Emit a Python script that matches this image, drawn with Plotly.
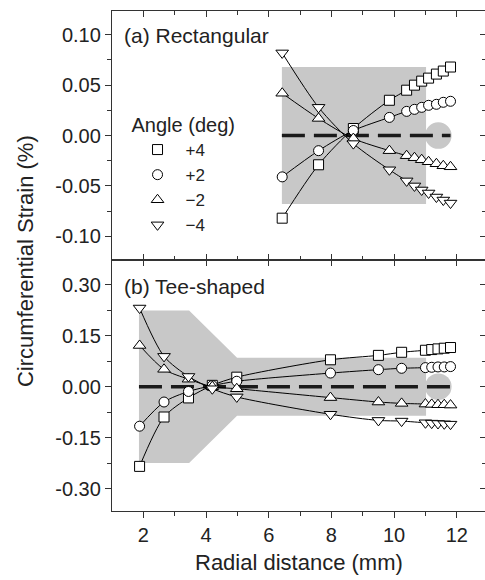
import plotly.graph_objects as go

# ---------------- data ----------------
# (a) Rectangular
xa = [6.43, 7.59, 8.70, 9.85, 10.40, 10.65, 10.88, 11.10, 11.35, 11.57, 11.80]
ya_p4 = [-0.082, -0.029, 0.007, 0.035, 0.045, 0.050, 0.054, 0.057, 0.061, 0.064, 0.068]
ya_p2 = [-0.041, -0.015, 0.005, 0.018, 0.024, 0.026, 0.028, 0.030, 0.031, 0.033, 0.034]
ya_m2 = [0.042, 0.017, -0.003, -0.015, -0.020, -0.022, -0.024, -0.026, -0.028, -0.030, -0.031]
ya_m4 = [0.082, 0.028, -0.008, -0.034, -0.045, -0.050, -0.054, -0.057, -0.061, -0.064, -0.067]

# (b) Tee-shaped
xb = [1.88, 2.66, 3.44, 4.20, 4.98, 7.97, 9.50, 10.24, 11.00, 11.20, 11.40, 11.60, 11.80]
yb_p4 = [-0.234, -0.089, -0.033, 0.004, 0.028, 0.079, 0.092, 0.101, 0.107, 0.109, 0.111, 0.113, 0.115]
yb_p2 = [-0.116, -0.045, -0.014, 0.003, 0.016, 0.040, 0.050, 0.054, 0.056, 0.057, 0.058, 0.058, 0.059]
yb_m2 = [0.121, 0.051, 0.022, 0.000, -0.006, -0.032, -0.045, -0.049, -0.051, -0.052, -0.053, -0.053, -0.054]
yb_m4 = [0.231, 0.089, 0.030, -0.006, -0.030, -0.081, -0.099, -0.101, -0.106, -0.107, -0.108, -0.109, -0.110]

series_names = ["+4", "+2", "\u22122", "\u22124"]
series_symbols = ["square", "circle", "triangle-up", "triangle-down"]
series_sizes = [10, 10, 11, 11]

ya_ticks = [-0.10, -0.05, 0.00, 0.05, 0.10]
ya_ticktext = ["-0.10", "-0.05", "0.00", "0.05", "0.10"]
ya_minor = [-0.075, -0.025, 0.025, 0.075]
yb_ticks = [-0.30, -0.15, 0.00, 0.15, 0.30]
yb_ticktext = ["-0.30", "-0.15", "0.00", "0.15", "0.30"]
yb_minor = [-0.225, -0.075, 0.075, 0.225]
x_ticks = [2, 4, 6, 8, 10, 12]
x_minor = [3, 5, 7, 9, 11]

# geometry of the grey specimen outlines (data units)
rect_a = dict(x0=6.42, x1=11.02, y0=-0.068, y1=0.068)
circ_x = (10.985, 11.835)
circ_a_r = 0.0132
circ_b_r = 0.039
tee_x = [1.86, 3.46, 4.99, 11.02]
tee_y = [0.224, 0.224, 0.085, 0.085]

FONT = "Liberation Sans, Arial, Helvetica, sans-serif"
GREY = "rgb(200,200,200)"
AX = "#333333"

fig = go.Figure()

for ys, sym, sz in zip([ya_p4, ya_p2, ya_m2, ya_m4], series_symbols, series_sizes):
    fig.add_trace(go.Scatter(
        x=xa, y=ys, xaxis="x2", yaxis="y2", mode="lines+markers",
        line=dict(color="black", width=1, shape="spline", smoothing=0.8),
        marker=dict(symbol=sym, size=sz, color="white", line=dict(color="black", width=1)),
        showlegend=False, hoverinfo="skip"))

for ys, sym, sz in zip([yb_p4, yb_p2, yb_m2, yb_m4], series_symbols, series_sizes):
    fig.add_trace(go.Scatter(
        x=xb, y=ys, xaxis="x", yaxis="y", mode="lines+markers",
        line=dict(color="black", width=1, shape="spline", smoothing=0.8),
        marker=dict(symbol=sym, size=sz, color="white", line=dict(color="black", width=1)),
        showlegend=False, hoverinfo="skip"))

# legend entries
for sym, nm, sz in zip(series_symbols, series_names, series_sizes):
    fig.add_trace(go.Scatter(
        x=[None], y=[None], xaxis="x2", yaxis="y2", mode="markers", name=nm,
        marker=dict(symbol=sym, size=sz, color="white", line=dict(color="black", width=1)),
        showlegend=True))

# dummy traces to carry the mirror (top/right) axes
for xa_, ya_ in [("x3", "y"), ("x4", "y2"), ("x", "y3"), ("x2", "y4")]:
    fig.add_trace(go.Scatter(x=[None], y=[None], xaxis=xa_, yaxis=ya_, mode="markers",
                             showlegend=False, hoverinfo="skip"))

shapes = []
# panel (a)
shapes.append(dict(type="rect", xref="x2", yref="y2", layer="below", fillcolor=GREY,
                   line=dict(width=0), **rect_a))
shapes.append(dict(type="circle", xref="x2", yref="y2", layer="below", fillcolor=GREY,
                   line=dict(width=0), x0=circ_x[0], x1=circ_x[1], y0=-circ_a_r, y1=circ_a_r))
shapes.append(dict(type="line", xref="x2", yref="y2", layer="below", x0=rect_a["x0"], x1=11.80,
                   y0=0, y1=0, line=dict(color="#1a1a1a", width=3.5, dash="23px,9px")))
# panel (b)
path = "M {0},{4} L {1},{5} L {2},{6} L {3},{7} L {3},{8} L {2},{9} L {1},{10} L {0},{11} Z".format(
    tee_x[0], tee_x[1], tee_x[2], tee_x[3],
    tee_y[0], tee_y[1], tee_y[2], tee_y[3], -tee_y[3], -tee_y[2], -tee_y[1], -tee_y[0])
shapes.append(dict(type="path", xref="x", yref="y", layer="below", fillcolor=GREY,
                   line=dict(width=0), path=path))
shapes.append(dict(type="circle", xref="x", yref="y", layer="below", fillcolor=GREY,
                   line=dict(width=0), x0=circ_x[0], x1=circ_x[1], y0=-circ_b_r, y1=circ_b_r))
shapes.append(dict(type="line", xref="x", yref="y", layer="below", x0=tee_x[0], x1=11.80,
                   y0=0, y1=0, line=dict(color="#1a1a1a", width=3.5, dash="23px,9px")))

XR = [1, 12.9]
YAR = [-0.1235, 0.1236]
YBR = [-0.365, 0.372]
SPLIT = 0.502

base = dict(showgrid=False, zeroline=False, showline=True, linecolor=AX, linewidth=1.3,
            tickcolor=AX, tickwidth=1, tickfont=dict(family=FONT, size=20, color="#222"))

fig.update_layout(
    width=485, height=580,
    margin=dict(l=112, r=0, t=11, b=69),
    paper_bgcolor="white", plot_bgcolor="white",
    font=dict(family=FONT, size=20, color="#222"),
    shapes=shapes,
    xaxis=dict(base, domain=[0, 1], anchor="y", range=XR, tickmode="array", tickvals=x_ticks,
               ticks="outside", ticklen=6,
               minor=dict(tickvals=x_minor, ticks="outside", ticklen=4, tickcolor=AX)),
    yaxis=dict(base, domain=[0, SPLIT], anchor="x", range=YBR, tickmode="array",
               tickvals=yb_ticks, ticktext=yb_ticktext, ticks="outside", ticklen=6,
               minor=dict(tickvals=yb_minor, ticks="outside", ticklen=4, tickcolor=AX)),
    xaxis2=dict(base, domain=[0, 1], anchor="y2", range=XR, tickmode="array", tickvals=x_ticks,
                showticklabels=False, ticks="inside", ticklen=6,
                minor=dict(tickvals=x_minor, ticks="inside", ticklen=4, tickcolor=AX)),
    yaxis2=dict(base, domain=[SPLIT, 1], anchor="x2", range=YAR, tickmode="array",
                tickvals=ya_ticks, ticktext=ya_ticktext, ticks="outside", ticklen=6,
                minor=dict(tickvals=ya_minor, ticks="outside", ticklen=4, tickcolor=AX)),
    xaxis3=dict(base, overlaying="x", anchor="y", side="top", range=XR, tickmode="array",
                tickvals=x_ticks, showticklabels=False, ticks="inside", ticklen=6),
    xaxis4=dict(base, overlaying="x2", anchor="y2", side="top", range=XR, tickmode="array",
                tickvals=x_ticks, showticklabels=False, ticks="inside", ticklen=6,
                minor=dict(tickvals=x_minor, ticks="inside", ticklen=4, tickcolor=AX)),
    yaxis3=dict(base, overlaying="y", anchor="x", side="right", range=YBR, tickmode="array",
                tickvals=yb_ticks, showticklabels=False, ticks="inside", ticklen=5, showline=False,
                minor=dict(tickvals=yb_minor, ticks="inside", ticklen=3, tickcolor=AX)),
    yaxis4=dict(base, overlaying="y2", anchor="x2", side="right", range=YAR, tickmode="array",
                tickvals=ya_ticks, showticklabels=False, ticks="inside", ticklen=5, showline=False,
                minor=dict(tickvals=ya_minor, ticks="inside", ticklen=3, tickcolor=AX)),
    legend=dict(x=0.047, y=0.81, xanchor="left", yanchor="top", bgcolor="rgba(0,0,0,0)",
                borderwidth=0, itemwidth=46, itemsizing="trace",
                title=dict(text="Angle (deg)", font=dict(family=FONT, size=20, color="#222")),
                font=dict(family=FONT, size=17, color="#222"), tracegroupgap=0),
    annotations=[
        dict(text="(a) Rectangular", xref="paper", yref="paper", x=0.027, y=0.952,
             xanchor="left", yanchor="middle", showarrow=False,
             font=dict(family=FONT, size=21, color="#222")),
        dict(text="(b) Tee-shaped", xref="paper", yref="paper", x=0.027, y=0.45,
             xanchor="left", yanchor="middle", showarrow=False,
             font=dict(family=FONT, size=21, color="#222")),
        dict(text="Radial distance (mm)", xref="paper", yref="paper", x=0.5, y=-0.102,
             xanchor="center", yanchor="middle", showarrow=False,
             font=dict(family=FONT, size=22, color="#222")),
        dict(text="Circumferential Strain (%)", xref="paper", yref="paper", x=-0.233, y=0.5,
             xanchor="center", yanchor="middle", textangle=-90, showarrow=False,
             font=dict(family=FONT, size=22, color="#222")),
    ],
)

fig.write_html("out.html")
